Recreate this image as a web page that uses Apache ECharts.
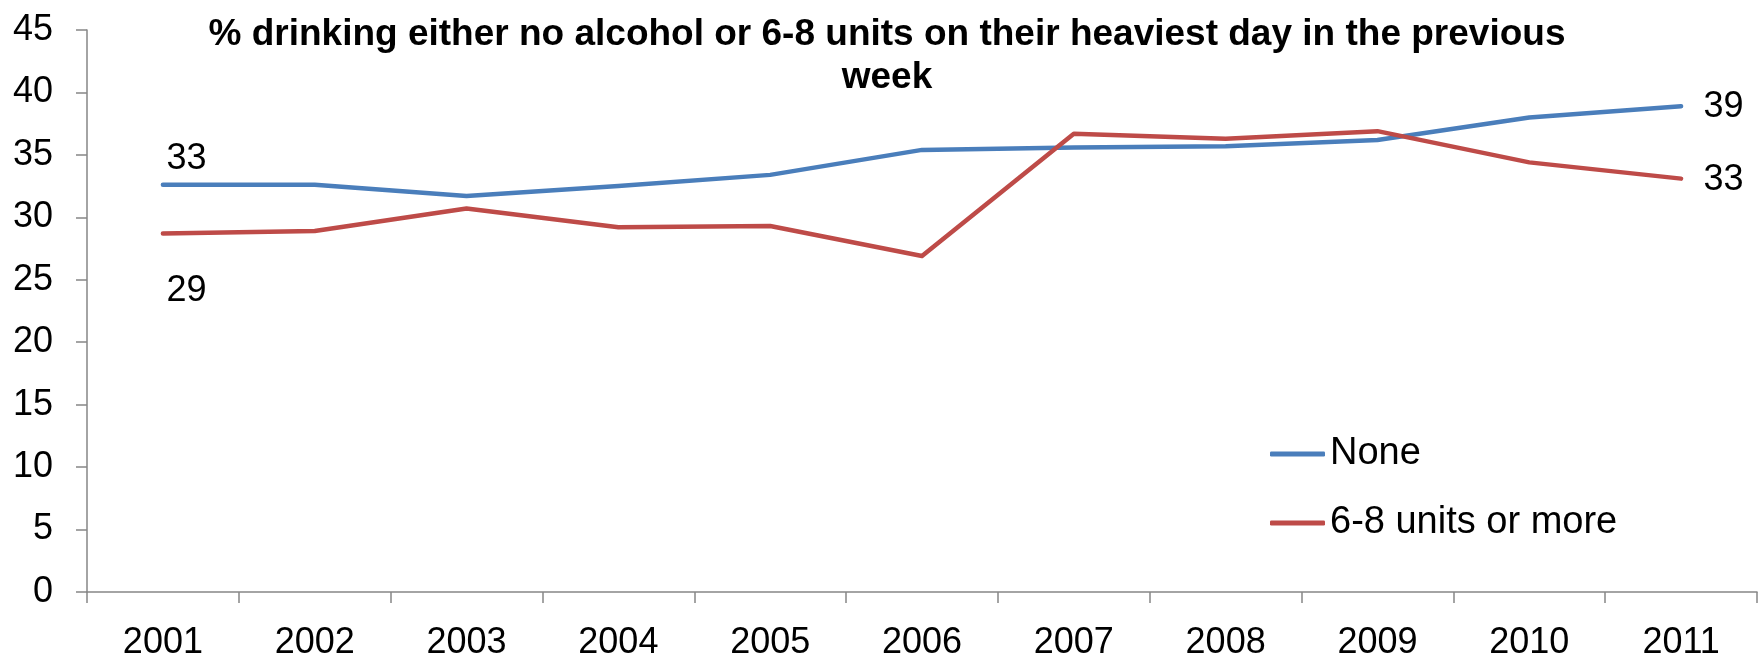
<!DOCTYPE html>
<html>
<head>
<meta charset="utf-8">
<script src="https://cdn.jsdelivr.net/npm/echarts@6/dist/echarts.min.js"></script>
<style>
  html, body { margin: 0; padding: 0; background: #ffffff; }
  #chart { width: 1762px; height: 661px; }
</style>
</head>
<body>
<div id="chart"></div>
<script>
// Survey years
const years = ['2001', '2002', '2003', '2004', '2005', '2006', '2007', '2008', '2009', '2010', '2011'];

// % drinking no alcohol in the previous week
const noneValues = [32.6, 32.6, 31.7, 32.5, 33.4, 35.4, 35.6, 35.7, 36.2, 38.0, 38.9];

// % drinking 6-8 units or more on their heaviest day
const heavyValues = [28.7, 28.9, 30.7, 29.2, 29.3, 26.9, 36.7, 36.3, 36.9, 34.4, 33.1];

const seriesNames = ['None', '6-8 units or more'];
const yTicks = { min: 0, max: 45, step: 5 };

const FONT = '"Liberation Sans", Arial, sans-serif';
const BLUE = '#4A7EBB';
const RED = '#BE4B48';
const AXIS = '#868686';

// Only the first and last point of each line carry a value label
function withEndLabels(values, firstPos, lastPos) {
  return values.map((v, i) => {
    if (i === 0 || i === values.length - 1) {
      return {
        value: v,
        label: {
          show: true,
          position: i === 0 ? firstPos : lastPos,
          align: 'left',
          verticalAlign: 'middle',
          formatter: p => String(Math.round(p.value)),
          color: '#000',
          fontFamily: FONT,
          fontSize: 36
        }
      };
    }
    return v;
  });
}

const chart = echarts.init(document.getElementById('chart'), null, { renderer: 'canvas' });

chart.setOption({
  animation: false,
  backgroundColor: '#ffffff',
  title: {
    text: '% drinking either no alcohol or 6-8 units on their heaviest day in the previous\nweek',
    left: 882,
    top: 8,
    textAlign: 'center',
    textStyle: {
      fontFamily: FONT,
      fontWeight: 'bold',
      fontSize: 37,
      lineHeight: 43,
      color: '#000'
    }
  },
  legend: {
    orient: 'vertical',
    left: 1265,
    top: 429,
    icon: 'roundRect',
    itemWidth: 55,
    itemHeight: 5,
    itemGap: 29,
    data: seriesNames,
    textStyle: {
      fontFamily: FONT,
      fontSize: 38,
      lineHeight: 40,
      color: '#000'
    }
  },
  grid: {
    left: 87,
    right: 5,
    top: 30,
    bottom: 67,
    containLabel: false
  },
  xAxis: {
    type: 'category',
    data: years,
    boundaryGap: true,
    axisLine: { lineStyle: { color: AXIS, width: 1.5 } },
    axisTick: { show: true, length: 11, alignWithLabel: false, lineStyle: { color: AXIS, width: 1.5 } },
    axisLabel: {
      margin: 33,
      fontFamily: FONT,
      fontSize: 36,
      color: '#000'
    },
    splitLine: { show: false }
  },
  yAxis: {
    type: 'value',
    min: yTicks.min,
    max: yTicks.max,
    interval: yTicks.step,
    axisLine: { show: true, lineStyle: { color: AXIS, width: 1.5 } },
    axisTick: { show: true, length: 11, lineStyle: { color: AXIS, width: 1.5 } },
    axisLabel: {
      margin: 34,
      fontFamily: FONT,
      fontSize: 36,
      color: '#000'
    },
    splitLine: { show: false }
  },
  series: [
    {
      name: seriesNames[0],
      type: 'line',
      data: withEndLabels(noneValues, [4, -25], [23, 1]),
      color: BLUE,
      symbol: 'circle',
      symbolSize: 1,
      showSymbol: true,
      lineStyle: { color: BLUE, width: 4.5, cap: 'round', join: 'round' },
      itemStyle: { color: BLUE },
      z: 2
    },
    {
      name: seriesNames[1],
      type: 'line',
      data: withEndLabels(heavyValues, [4, 58], [23, 2]),
      color: RED,
      symbol: 'circle',
      symbolSize: 1,
      showSymbol: true,
      lineStyle: { color: RED, width: 4.5, cap: 'round', join: 'round' },
      itemStyle: { color: RED },
      z: 3
    }
  ]
});
</script>
</body>
</html>
